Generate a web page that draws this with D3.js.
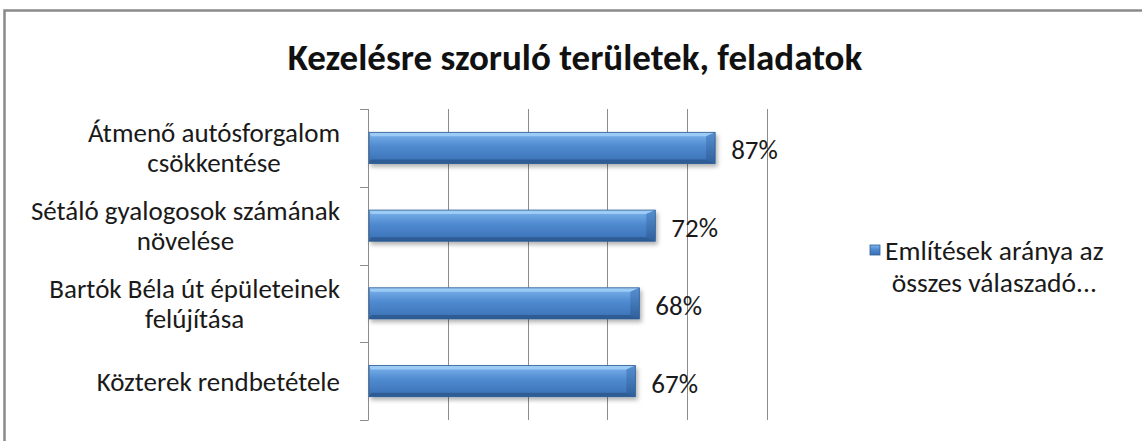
<!DOCTYPE html>
<html>
<head>
<meta charset="utf-8">
<script src="https://cdn.jsdelivr.net/npm/d3@7"></script>
<style>
  body { margin: 0; background: #fff; }
  svg { display: block; font-family: Carlito, Calibri, Lato, sans-serif; }
</style>
</head>
<body>
<svg id="chart" width="1142" height="441"></svg>
<script>
const title = "Kezelésre szoruló területek, feladatok"
const categories = ["Átmenő autósforgalom\ncsökkentése", "Sétáló gyalogosok számának\nnövelése", "Bartók Béla út épületeinek\nfelújítása", "Közterek rendbetétele"]
const values = [87, 72, 68, 67]
const gridTicks = [20, 40, 60, 80, 100]
const legendLines = ["Említések aránya az", "összes válaszadó..."]

let svg = d3.select("#chart")
let plot = {left: 368, right: 767, top: 109, bottom: 420}
let fontSize = "27px"

let defs = svg.append("defs")
let face = defs.append("linearGradient").attr("id", "face").attr("x1", 0).attr("y1", 0).attr("x2", 0).attr("y2", 1)
face.append("stop").attr("offset", "0%").attr("stop-color", "#7db5ec")
face.append("stop").attr("offset", "45%").attr("stop-color", "#4f8ad0")
face.append("stop").attr("offset", "100%").attr("stop-color", "#3a70b4")
let endG = defs.append("linearGradient").attr("id", "endg").attr("x1", 0).attr("y1", 0).attr("x2", 0).attr("y2", 1)
endG.append("stop").attr("offset", "0%").attr("stop-color", "#5690d2")
endG.append("stop").attr("offset", "100%").attr("stop-color", "#2f5f9c")
let sh = defs.append("filter").attr("id", "shadow").attr("x", "-5%").attr("y", "-30%").attr("width", "115%").attr("height", "190%")
sh.append("feDropShadow").attr("dx", 2).attr("dy", 3).attr("stdDeviation", 2).attr("flood-color", "#000").attr("flood-opacity", 0.3)

// outer frame (runs off the right and bottom of the picture)
svg.append("rect")
  .attr("x", 4.5).attr("y", 10.5).attr("width", 1200).attr("height", 500)
  .attr("fill", "none").attr("stroke", "#8a8a8a").attr("stroke-width", 2.5)

svg.append("text")
  .attr("x", 575).attr("y", 70)
  .attr("text-anchor", "middle")
  .style("font-size", "37px").style("font-weight", "bold")
  .attr("fill", "#111")
  .text(title)

let x = d3.scaleLinear().domain([0, 100]).range([plot.left, plot.right])
let y = d3.scaleBand().domain(categories).range([plot.top, plot.bottom])

// vertical gridlines
svg.append("g").selectAll("line")
  .data(gridTicks).enter().append("line")
  .attr("x1", d => Math.round(x(d)) + 0.5).attr("x2", d => Math.round(x(d)) + 0.5)
  .attr("y1", plot.top).attr("y2", plot.bottom)
  .attr("stroke", "#8c8c8c").attr("stroke-width", 1)

// category axis with boundary ticks
let axis = svg.append("g")
axis.append("line")
  .attr("x1", plot.left + 0.5).attr("x2", plot.left + 0.5)
  .attr("y1", plot.top).attr("y2", plot.bottom)
  .attr("stroke", "#8c8c8c")
let bounds = categories.map(c => y(c)).concat([plot.bottom])
axis.selectAll("line.tick").data(bounds).enter().append("line")
  .attr("class", "tick")
  .attr("x1", plot.left - 8).attr("x2", plot.left + 0.5)
  .attr("y1", d => Math.round(d) + 0.5).attr("y2", d => Math.round(d) + 0.5)
  .attr("stroke", "#8c8c8c")

// category labels, wrapped lines centred on each other, block right aligned
let labelRight = 340
categories.forEach(function(c) {
  let lines = c.split("\n")
  let g = svg.append("g")
  let cy = y(c) + y.bandwidth() / 2
  let lh = 30
  let texts = lines.map(function(l, i) {
    return g.append("text")
      .attr("y", cy + (i - (lines.length - 1) / 2) * lh)
      .attr("dy", "0.35em")
      .attr("text-anchor", "middle")
      .style("font-size", fontSize)
      .attr("fill", "#1a1a1a")
      .text(l)
  })
  let maxW = d3.max(texts, t => t.node().getComputedTextLength())
  texts.forEach(t => t.attr("x", labelRight - maxW / 2))
})

// bars with a bevelled look
let barH = y.bandwidth() / 2.5
let bars = svg.append("g").selectAll("g")
  .data(categories.map((c, i) => ({c: c, v: values[i]})))
  .enter().append("g")
  .attr("filter", "url(#shadow)")

bars.each(function(d) {
  let g = d3.select(this)
  let x0 = plot.left + 1, x1 = x(d.v)
  let y0 = y(d.c) + (y.bandwidth() - barH) / 2, y1 = y0 + barH
  let b = 4, e = 9
  g.append("rect").attr("x", x0).attr("y", y0).attr("width", x1 - x0).attr("height", barH).attr("fill", "url(#face)")
  g.append("polygon").attr("points", [[x0, y0], [x1, y0], [x1 - e, y0 + b], [x0 + 2, y0 + b]].join(" ")).attr("fill", "#9ccbf5")
  g.append("polygon").attr("points", [[x0, y1], [x1, y1], [x1 - e, y1 - b], [x0 + 2, y1 - b]].join(" ")).attr("fill", "#2d5b94")
  g.append("polygon").attr("points", [[x1 - e, y0 + b], [x1, y0], [x1, y1], [x1 - e, y1 - b]].join(" ")).attr("fill", "url(#endg)")
  g.append("rect").attr("x", x0).attr("y", y0).attr("width", x1 - x0).attr("height", barH)
    .attr("fill", "none").attr("stroke", "#2f5c92").attr("stroke-width", 0.8)
})

// value labels
svg.append("g").selectAll("text")
  .data(categories.map((c, i) => ({c: c, v: values[i]})))
  .enter().append("text")
  .attr("x", d => x(d.v) + 16)
  .attr("y", d => y(d.c) + y.bandwidth() / 2 + 2)
  .attr("dy", "0.35em")
  .style("font-size", fontSize)
  .attr("fill", "#1a1a1a")
  .text(d => d.v + "%")

// legend
let lg = svg.append("g")
lg.append("rect").attr("x", 870).attr("y", 245).attr("width", 10).attr("height", 10)
  .attr("fill", "url(#face)").attr("stroke", "#2f5c92").attr("stroke-width", 0.8)
let lt = legendLines.map(function(l, i) {
  return lg.append("text")
    .attr("y", 250 + i * 32)
    .attr("dy", "0.35em")
    .attr("text-anchor", "middle")
    .style("font-size", "27.5px")
    .attr("fill", "#1a1a1a")
    .text(l)
})
let lw = d3.max(lt, t => t.node().getComputedTextLength())
lt.forEach(t => t.attr("x", 885 + lw / 2))
</script>
</body>
</html>
